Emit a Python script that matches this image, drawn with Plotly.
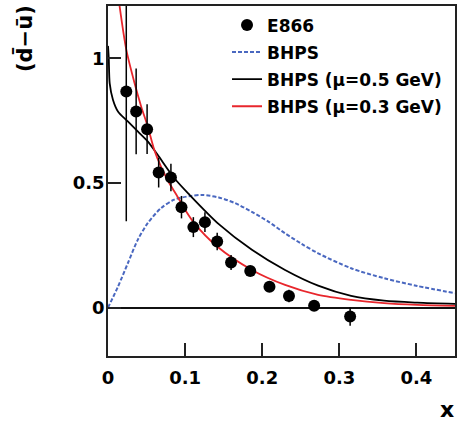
import plotly.graph_objects as go

# E866 data
e866_x = [0.0237, 0.0365, 0.0507, 0.0657, 0.0816, 0.0953, 0.1107, 0.1257, 0.1416,
          0.1596, 0.1845, 0.2094, 0.2347, 0.2673, 0.314]
e866_y = [0.867, 0.787, 0.716, 0.542, 0.522, 0.403, 0.323, 0.343, 0.265,
          0.181, 0.147, 0.084, 0.047, 0.008, -0.036]
e866_err = [0.52, 0.172, 0.10, 0.06, 0.055, 0.045, 0.04, 0.04, 0.035,
            0.03, 0.018, 0.012, 0.025, 0.012, 0.037]

# BHPS (blue dashed)
bhps_x = [0.0, 0.0129, 0.0257, 0.0386, 0.0515, 0.0687, 0.0858, 0.107, 0.1223,
          0.1437, 0.165, 0.1866, 0.208, 0.2296, 0.251, 0.2725, 0.3153, 0.358, 0.401, 0.45]
bhps_y = [0.0, 0.084, 0.178, 0.272, 0.339, 0.399, 0.433, 0.448, 0.452,
          0.442, 0.419, 0.384, 0.345, 0.298, 0.256, 0.218, 0.158, 0.118, 0.087, 0.058]

# BHPS (mu = 0.5 GeV) black
b05_x = [0.0, 0.001, 0.0022, 0.0064, 0.0129, 0.0257, 0.0386, 0.0515, 0.0644,
         0.0858, 0.105, 0.1437, 0.1866, 0.2296, 0.2725, 0.3153, 0.358, 0.401, 0.45]
b05_y = [1.05, 1.0, 0.90, 0.834, 0.787, 0.747, 0.707, 0.667, 0.613,
         0.52, 0.455, 0.335, 0.232, 0.151, 0.088, 0.047, 0.028, 0.020, 0.015]

# BHPS (mu = 0.3 GeV) red
b03_x = [0.015, 0.0237, 0.0344, 0.043, 0.0515, 0.060, 0.0687, 0.0794, 0.090,
         0.1016, 0.1116, 0.1416, 0.1866, 0.2296, 0.2725, 0.3153, 0.358, 0.401, 0.45]
b03_y = [1.21, 1.035, 0.901, 0.807, 0.727, 0.633, 0.566, 0.50, 0.446,
         0.385, 0.34, 0.245, 0.151, 0.091, 0.051, 0.031, 0.018, 0.011, 0.007]

x_ticks = [0, 0.1, 0.2, 0.3, 0.4]
x_ticktext = ["0", "0.1", "0.2", "0.3", "0.4"]
y_ticks = [0, 0.5, 1]
y_ticktext = ["0", "0.5", "1"]

FONT = "DejaVu Sans"

fig = go.Figure()
fig.add_trace(go.Scatter(x=bhps_x, y=bhps_y, mode="lines", name="BHPS",
                         line=dict(color="#4a68c0", width=2, dash="4px,2px", shape="spline",
                                   smoothing=0.8),
                         legendrank=2, legendgroup="b"))
fig.add_trace(go.Scatter(x=b05_x, y=b05_y, mode="lines", name="BHPS (\u03bc=0.5 GeV)",
                         line=dict(color="black", width=1.8, shape="spline", smoothing=0.8),
                         legendrank=3, legendgroup="c"))
fig.add_trace(go.Scatter(x=b03_x, y=b03_y, mode="lines", name="BHPS (\u03bc=0.3 GeV)",
                         line=dict(color="#e8262c", width=1.8, shape="spline", smoothing=0.8),
                         legendrank=4, legendgroup="d"))
fig.add_trace(go.Scatter(x=e866_x, y=e866_y, mode="markers", name="E866",
                         marker=dict(color="black", size=12),
                         error_y=dict(type="data", array=e866_err, color="black",
                                      thickness=1.5, width=0),
                         legendrank=1, legendgroup="a"))

fig.update_layout(
    width=459, height=424,
    margin=dict(l=108, r=2, t=6, b=68),
    paper_bgcolor="white", plot_bgcolor="white",
    font=dict(family=FONT, size=17, color="black", weight="bold"),
    showlegend=True,
    legend=dict(x=0.343, y=0.996, xanchor="left", yanchor="top",
                bgcolor="rgba(0,0,0,0)", borderwidth=0, tracegroupgap=2,
                font=dict(family=FONT, size=17, weight="bold")),
    xaxis=dict(range=[0, 0.45], tickvals=x_ticks, ticktext=x_ticktext,
               ticks="inside", ticklen=13, tickwidth=1.5, tickcolor="#222",
               showline=True, linecolor="#222", linewidth=1.5, mirror=True,
               showgrid=False, zeroline=False, ticklabelstandoff=5,
               tickfont=dict(family=FONT, size=18, weight="bold")),
    yaxis=dict(range=[-0.194, 1.21], tickvals=y_ticks, ticktext=y_ticktext,
               ticks="inside", ticklen=13, tickwidth=1.5, tickcolor="#222",
               showline=True, linecolor="#222", linewidth=1.5, mirror=True,
               showgrid=False, zeroline=True, zerolinecolor="#111", zerolinewidth=1.5,
               ticklabelstandoff=-2,
               tickfont=dict(family=FONT, size=18, weight="bold")),
    annotations=[
        dict(text="(d\u0304\u2212\u016b)", textangle=-90, xref="paper", yref="paper",
             x=-0.2407, y=0.907, xanchor="center", yanchor="middle", showarrow=False,
             font=dict(family=FONT, size=21, weight="bold")),
        dict(text="x", xref="paper", yref="paper", x=0.977, y=-0.154,
             xanchor="center", yanchor="middle", showarrow=False,
             font=dict(family=FONT, size=22, weight="bold")),
    ],
)

fig.write_html("out.html", config={"displayModeBar": False},
               post_script="document.body.style.margin='0';")
